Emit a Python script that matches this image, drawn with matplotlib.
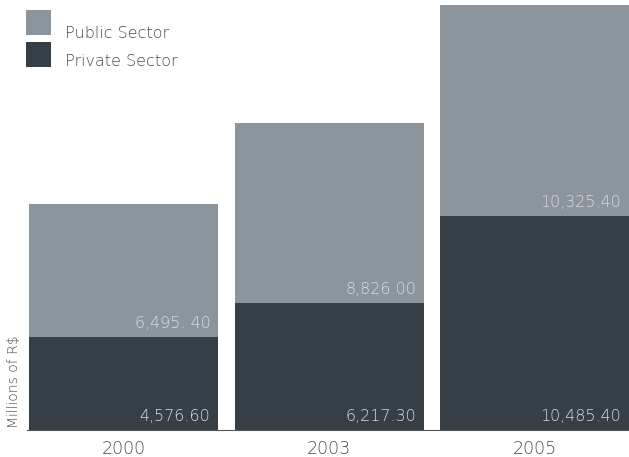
import matplotlib.pyplot as plt
from matplotlib.patches import Rectangle
from matplotlib import transforms

years = ['2000', '2003', '2005']
private_sector = [4576.60, 6217.30, 10485.40]
public_sector = [6495.40, 8826.00, 10325.40]
private_labels = ['4,576.60', '6,217.30', '10,485.40']
public_labels = ['6,495. 40', '8,826.00', '10,325.40']

PUBLIC_COLOR = '#8c959c'
PRIVATE_COLOR = '#363f46'
VALUE_COLOR = '#d8dcdf'
TEXT_COLOR = '#4a4a4a'

plt.rcParams['font.family'] = ['DejaVu Sans']
plt.rcParams['font.weight'] = 'light'

fig = plt.figure(figsize=(6.29, 4.57), dpi=100)
ax = fig.add_axes([27 / 629, 27 / 457, 602 / 629, 425 / 457])

x = list(range(len(years)))
width = 0.92
ax.bar(x, private_sector, width=width, color=PRIVATE_COLOR, linewidth=0)
ax.bar(x, public_sector, width=width, bottom=private_sector,
       color=PUBLIC_COLOR, linewidth=0)

totals = [p + q for p, q in zip(private_sector, public_sector)]
ax.set_xlim(-0.47, 2.46)
ax.set_ylim(0, max(totals))

# value labels, right aligned inside each bar
for i in x:
    off = transforms.offset_copy(ax.transData, fig=fig, x=-5.5, y=4, units='points')
    ax.text(i + width / 2, 0, private_labels[i], transform=off,
            ha='right', va='bottom', color=VALUE_COLOR, fontsize=11.5)
    ax.text(i + width / 2, private_sector[i], public_labels[i], transform=off,
            ha='right', va='bottom', color=VALUE_COLOR, fontsize=11.5)

for side in ['left', 'right', 'top']:
    ax.spines[side].set_visible(False)
ax.spines['bottom'].set_color('#555555')
ax.spines['bottom'].set_linewidth(0.8)
ax.set_yticks([])
ax.set_xticks(x)
ax.set_xticklabels(years, color=TEXT_COLOR, fontsize=12.5)
ax.tick_params(axis='x', length=0, pad=7)

fig.text(7 / 629, 29 / 457, 'Millions of R$', rotation=90, ha='left', va='bottom',
         color=TEXT_COLOR, fontsize=10)

# legend drawn by hand
fig.add_artist(Rectangle((26 / 629, 1 - 35 / 457), 25 / 629, 25 / 457,
                         transform=fig.transFigure, color=PUBLIC_COLOR, lw=0))
fig.add_artist(Rectangle((26 / 629, 1 - 67 / 457), 25 / 629, 25 / 457,
                         transform=fig.transFigure, color=PRIVATE_COLOR, lw=0))
fig.text(65 / 629, 1 - 33 / 457, 'Public Sector', ha='left', va='center',
         color=TEXT_COLOR, fontsize=11.5)
fig.text(65 / 629, 1 - 62 / 457, 'Private Sector', ha='left', va='center',
         color=TEXT_COLOR, fontsize=11.5)

fig.savefig('out.png', dpi=100, facecolor='white')
